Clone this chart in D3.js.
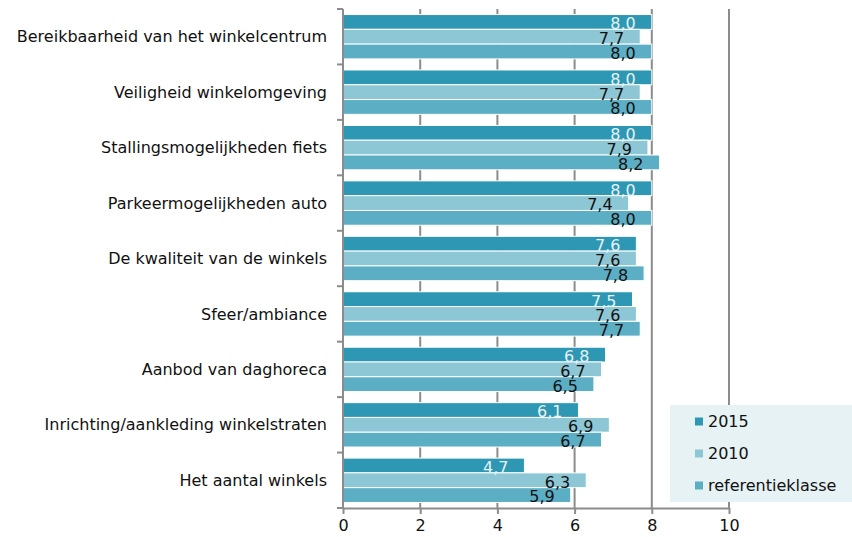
<!DOCTYPE html>
<html>
<head>
<meta charset="utf-8">
<script src="https://cdn.jsdelivr.net/npm/d3@7"></script>
<style>
  body { margin: 0; background: #fff; }
  text { font-family: "DejaVu Sans", Verdana, sans-serif; }
</style>
</head>
<body>
<script>
var categories = [
    "Bereikbaarheid van het winkelcentrum",
    "Veiligheid winkelomgeving",
    "Stallingsmogelijkheden fiets",
    "Parkeermogelijkheden auto",
    "De kwaliteit van de winkels",
    "Sfeer/ambiance",
    "Aanbod van daghoreca",
    "Inrichting/aankleding winkelstraten",
    "Het aantal winkels"
];
var series = ["2015", "2010", "referentieklasse"];
var values2015 = [8.0, 8.0, 8.0, 8.0, 7.6, 7.5, 6.8, 6.1, 4.7];
var values2010 = [7.7, 7.7, 7.9, 7.4, 7.6, 7.6, 6.7, 6.9, 6.3];
var valuesRef = [8.0, 8.0, 8.2, 8.0, 7.8, 7.7, 6.5, 6.7, 5.9];
var xTicks = [0, 2, 4, 6, 8, 10];

var colors = ["#2e97b3", "#8dc6d4", "#5baec4"];
var labelColors = ["#e4f3f7", "#111", "#111"];

draw();

function draw() {
    var width = 852, height = 537,
        left = 343, right = 729,
        top = 9, bottom = 508;

    var allValues = [values2015, values2010, valuesRef];

    var rows = categories.map(function (c, i) {
        return {
            name: c,
            bars: series.map(function (s, j) {
                return { series: s, idx: j, value: allValues[j][i] };
            })
        };
    });

    var svg = d3.select("body")
        .append("svg")
        .attr("width", width)
        .attr("height", height);

    var x = d3.scaleLinear().domain([0, 10]).range([left, right]);
    var y = d3.scaleBand().domain(categories).range([top, bottom]).paddingInner(0.2).paddingOuter(0.1);
    var yInner = d3.scaleBand().domain(series).range([0, y.bandwidth()]);

    var step = (bottom - top) / categories.length;

    // gridlines
    svg.append("g")
        .selectAll("line")
        .data(xTicks.slice(1))
        .enter()
        .append("line")
        .attr("x1", function (d) { return x(d); })
        .attr("x2", function (d) { return x(d); })
        .attr("y1", top)
        .attr("y2", bottom)
        .attr("stroke", "#8c8c8c")
        .attr("stroke-width", 2);

    var groups = svg.append("g")
        .selectAll(".group")
        .data(rows)
        .enter()
        .append("g")
        .attr("transform", function (d) {
            return "translate(0," + y(d.name) + ")";
        });

    groups.selectAll("rect")
        .data(function (d) { return d.bars; })
        .enter()
        .append("rect")
        .attr("x", x(0))
        .attr("y", function (d) { return yInner(d.series); })
        .attr("width", function (d) { return x(d.value) - x(0); })
        .attr("height", yInner.bandwidth())
        .attr("fill", function (d) { return colors[d.idx]; })
        .attr("stroke", "#fff")
        .attr("stroke-width", 1);

    groups.selectAll(".val")
        .data(function (d) { return d.bars; })
        .enter()
        .append("text")
        .attr("class", "val")
        .attr("x", function (d) { return x(d.value) - 16; })
        .attr("y", function (d) { return yInner(d.series) + yInner.bandwidth(); })
        .attr("text-anchor", "end")
        .attr("font-size", "16px")
        .attr("fill", function (d) { return labelColors[d.idx]; })
        .text(function (d) { return d.value.toFixed(1).replace(".", ","); });

    // y axis
    svg.append("line")
        .attr("x1", x(0)).attr("x2", x(0))
        .attr("y1", top).attr("y2", bottom)
        .attr("stroke", "#8c8c8c").attr("stroke-width", 2);

    svg.append("g")
        .selectAll("line")
        .data(d3.range(categories.length + 1))
        .enter()
        .append("line")
        .attr("x1", x(0) - 6).attr("x2", x(0))
        .attr("y1", function (d) { return top + d * step; })
        .attr("y2", function (d) { return top + d * step; })
        .attr("stroke", "#8c8c8c").attr("stroke-width", 2);

    svg.append("g")
        .selectAll("text")
        .data(categories)
        .enter()
        .append("text")
        .attr("x", 327)
        .attr("y", function (d) { return y(d) + y.bandwidth() / 2; })
        .attr("dy", "0.35em")
        .attr("text-anchor", "end")
        .attr("font-size", "16px")
        .attr("fill", "#111")
        .text(function (d) { return d; });

    // x axis
    var xAxis = svg.append("g")
        .attr("transform", "translate(0," + bottom + ")")
        .call(d3.axisBottom(x).tickValues(xTicks).tickSize(6).tickSizeOuter(0).tickPadding(6));
    xAxis.select(".domain").attr("stroke", "#8c8c8c").attr("stroke-width", 2);
    xAxis.selectAll(".tick line").attr("stroke", "#8c8c8c").attr("stroke-width", 2);
    xAxis.selectAll(".tick text")
        .attr("font-size", "16px")
        .attr("font-family", "DejaVu Sans, Verdana, sans-serif")
        .attr("fill", "#111");

    // legend
    var legend = svg.append("g");
    legend.append("rect")
        .attr("x", 670).attr("y", 405)
        .attr("width", 182).attr("height", 97)
        .attr("fill", "#e6f2f4");

    var items = legend.selectAll(".item")
        .data(series)
        .enter()
        .append("g")
        .attr("transform", function (d, i) {
            return "translate(695," + (421.5 + i * 32) + ")";
        });
    items.append("rect")
        .attr("x", 0).attr("y", -4)
        .attr("width", 8).attr("height", 8)
        .attr("fill", function (d, i) { return colors[i]; });
    items.append("text")
        .attr("x", 13).attr("y", 0)
        .attr("dy", "0.35em")
        .attr("font-size", "16px")
        .attr("fill", "#111")
        .text(function (d) { return d; });
}
</script>
</body>
</html>
